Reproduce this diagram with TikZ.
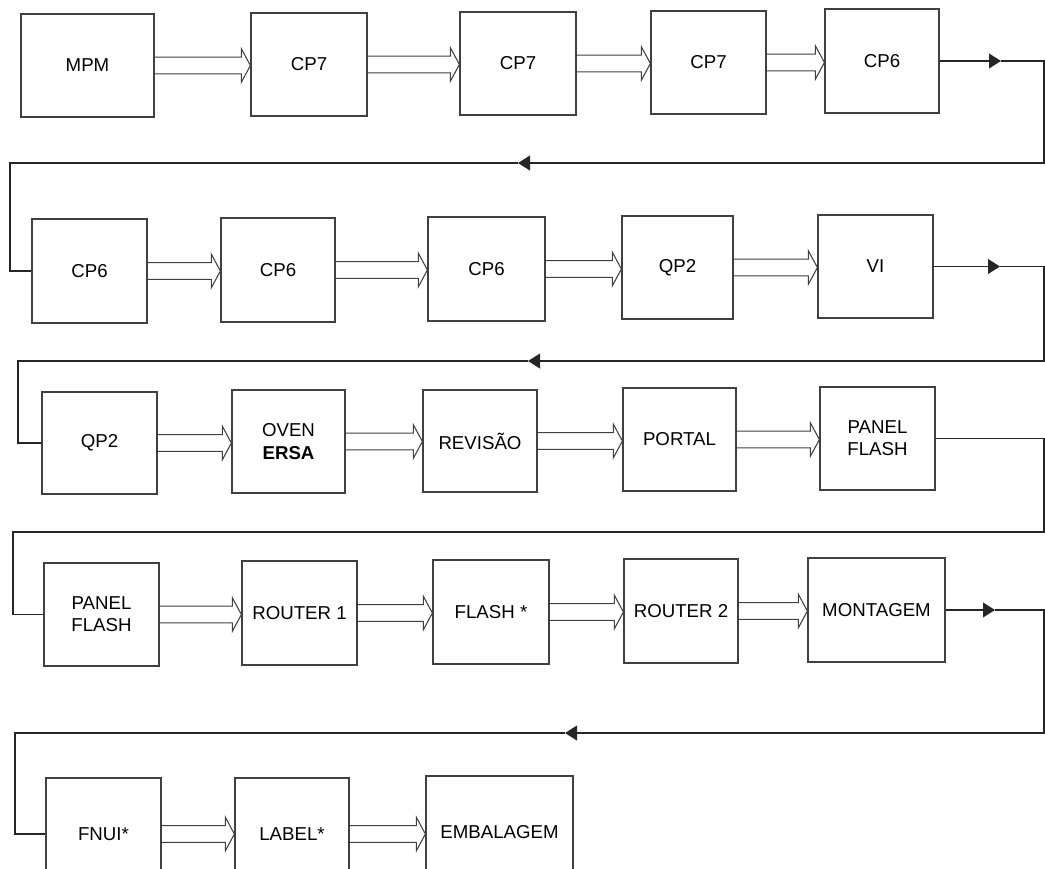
\documentclass[tikz,border=0pt]{standalone}
\usepackage{fontspec}
\setmainfont{Liberation Sans}
\usetikzlibrary{arrows.meta,calc}
\tikzset{
 box/.style={draw=black!75,line width=0.9pt,rectangle,inner sep=0pt,align=center,font=\fontsize{14}{16.7}\selectfont},
 conn/.style={draw=black!85,line width=1.4pt},
 tipped/.style={conn,-{Triangle[length=9pt,width=11pt]}},
 hol/.style={draw=black!75,line width=0.8pt,line join=miter},
}
\newcommand\dblarr[2]{\draw[hol] let \p1=(#1.east), \p2=(#2.west) in (\x1,\y1+6.25pt) -- (\x2-6.75pt,\y1+6.25pt) -- (\x2-6.75pt,\y1+12.5pt) -- (\x2,\y1) -- (\x2-6.75pt,\y1-12.5pt) -- (\x2-6.75pt,\y1-6.25pt) -- (\x1,\y1-6.25pt);}
\newcommand\bx[6]{\node[box,minimum width=#4pt,minimum height=#5pt] (#1) at (#2,#3) {#6};}
\begin{document}
\begin{tikzpicture}[x=0.75pt,y=-0.75pt]
\useasboundingbox (0,0) rectangle (1045,868);
\clip (0,0) rectangle (1045,868);
% row 1
\bx{a1}{87.5}{65.5}{99.75}{77.25}{MPM}
\bx{a2}{309}{64.5}{87}{77.25}{CP7}
\bx{a3}{518}{63.5}{87}{77.25}{CP7}
\bx{a4}{708.5}{62.5}{86.25}{77.25}{CP7}
\bx{a5}{882}{61}{85.5}{78}{CP6}
% row 2
\bx{b1}{89.5}{271}{86.25}{78}{CP6}
\bx{b2}{278}{270}{85.5}{78}{CP6}
\bx{b3}{486.5}{269}{87.75}{78}{CP6}
\bx{b4}{677.5}{267.5}{83.25}{77.25}{QP2}
\bx{b5}{875.5}{266.5}{86.25}{77.25}{VI}
% row 3
\bx{c1}{99.5}{443}{86.25}{76.5}{QP2}
\bx{c2}{288.5}{441.5}{84.75}{77.25}{OVEN\\\textbf{ERSA}}
\bx{c3}{480}{441}{85.5}{76.5}{REVISÃO}
\bx{c4}{679.5}{439.5}{84.75}{77.25}{PORTAL}
\bx{c5}{877.5}{438.5}{86.25}{77.25}{PANEL\\FLASH}
% row 4
\bx{d1}{101.5}{614.5}{86.25}{77.25}{PANEL\\FLASH}
\bx{d2}{299.5}{613}{86.25}{78}{ROUTER 1}
\bx{d3}{491}{612}{87}{78}{FLASH *}
\bx{d4}{681}{611}{85.5}{78}{ROUTER 2}
\bx{d5}{876.5}{610}{102.75}{78}{MONTAGEM}
% row 5
\bx{f1}{103.5}{834}{86.25}{84}{FNUI*}
\bx{f2}{292}{834}{85.5}{84}{LABEL*}
\bx{f3}{499.5}{832}{110.25}{84}{EMBALAGEM}
% hollow arrows
\dblarr{a1}{a2}\dblarr{a2}{a3}\dblarr{a3}{a4}\dblarr{a4}{a5}
\dblarr{b1}{b2}\dblarr{b2}{b3}\dblarr{b3}{b4}\dblarr{b4}{b5}
\dblarr{c1}{c2}\dblarr{c2}{c3}\dblarr{c3}{c4}\dblarr{c4}{c5}
\dblarr{d1}{d2}\dblarr{d2}{d3}\dblarr{d3}{d4}\dblarr{d4}{d5}
\dblarr{f1}{f2}\dblarr{f2}{f3}
% return connectors
\coordinate (t1) at (1001,61);  \coordinate (e1) at (1044,163); \coordinate (u1) at (518,163); \coordinate (w1) at (10,163);
\coordinate (t2) at (1000,266.5); \coordinate (e2) at (1044,361); \coordinate (u2) at (528,361); \coordinate (w2) at (18,361);
\coordinate (e3) at (1044,532); \coordinate (w3) at (13,532);
\coordinate (t4) at (995,610); \coordinate (e4) at (1044,733); \coordinate (u4) at (565,733); \coordinate (w4) at (15,733);
\draw[tipped] (a5.east) -- (t1);
\draw[tipped] (t1) -| (e1) -- (u1);
\draw[conn] (u1) -- (w1) |- (b1.west);
\draw[tipped] (b5.east) -- (t2);
\draw[tipped] (t2) -| (e2) -- (u2);
\draw[conn] (u2) -- (w2) |- (c1.west);
\draw[conn] (c5.east) -| (e3) -- (w3) |- (d1.west);
\draw[tipped] (d5.east) -- (t4);
\draw[tipped] (t4) -| (e4) -- (u4);
\draw[conn] (u4) -- (w4) |- (f1.west);
\end{tikzpicture}
\end{document}
